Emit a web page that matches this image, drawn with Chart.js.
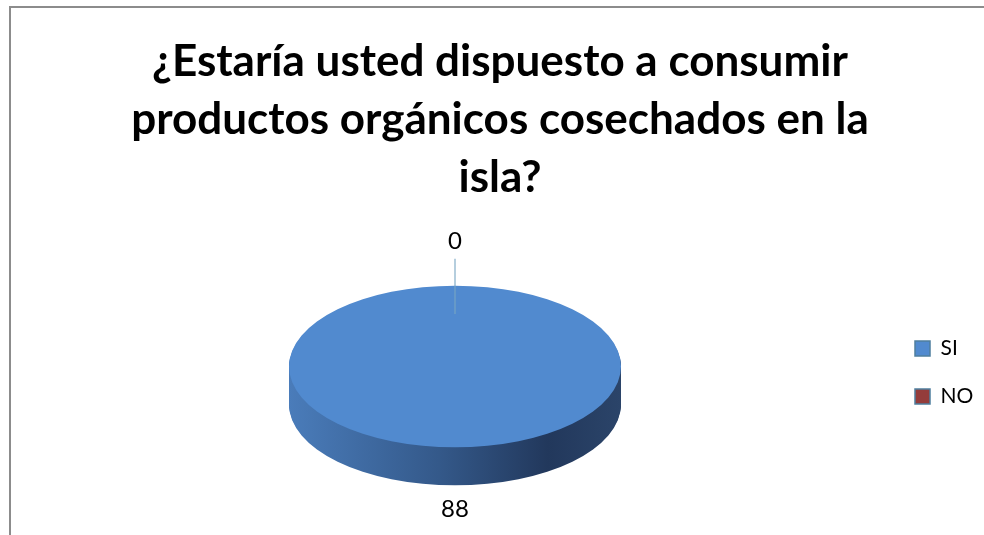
<!DOCTYPE html>
<html>
<head>
<meta charset="utf-8">
<script src="https://cdn.jsdelivr.net/npm/chart.js@4"></script>
<style>
  html, body { margin: 0; padding: 0; background: #fff; }
  #wrap { position: relative; width: 984px; height: 535px; }
  #frame { position: absolute; left: 9px; top: 6px; right: -4px; bottom: -4px; border-left: 2px solid #8c8c8c; border-top: 2px solid #8c8c8c; pointer-events: none; }
</style>
</head>
<body>
<div id="wrap">
  <canvas id="myChart" width="984" height="535"></canvas>
  <div id="frame"></div>
</div>
<script>
const categories = ["SI", "NO"];
const values = [88, 0];
const titleLines = ["¿Estaría usted dispuesto a consumir", "productos orgánicos cosechados en la", "isla?"];

const sliceColors = ["#518acf", "#943c3b"];
const TILT = 0.487;   // vertical squash of the pie
const DEPTH = 38;     // thickness of the 3D side

const sideGradient = (ctx, cx, r) => {
  let g = ctx.createLinearGradient(cx - r, 0, cx + r, 0);
  g.addColorStop(0, "#4a7cba");
  g.addColorStop(0.45, "#34598a");
  g.addColorStop(0.78, "#22385c");
  g.addColorStop(1, "#2b4469");
  return g;
};

const squash = (ctx, cx, cy) => {
  ctx.translate(cx, cy);
  ctx.scale(1, TILT);
  ctx.translate(-cx, -cy);
};

const drawArc = (ctx, arc, fill) => {
  const saved = arc.options;
  arc.options = Object.assign({}, saved, { backgroundColor: fill, borderWidth: 0 });
  arc.draw(ctx);
  arc.options = saved;
};

/* fake 3D: side drawn with offset copies of the arcs, then top face squashed */
const pie3d = {
  id: "pie3d",
  beforeDatasetsDraw(chart) {
    const ctx = chart.ctx;
    const arcs = chart.getDatasetMeta(0).data;
    const { x: cx, y: cy, outerRadius: r } = arcs[0];
    const grad = sideGradient(ctx, cx, r);
    for (let d = DEPTH; d > 0; d--) {
      ctx.save();
      ctx.translate(0, d);
      squash(ctx, cx, cy);
      arcs.forEach((arc, i) => { if (values[i] > 0) drawArc(ctx, arc, grad); });
      ctx.restore();
    }
    ctx.save();
    squash(ctx, cx, cy);
  },
  afterDatasetsDraw(chart) {
    const ctx = chart.ctx;
    ctx.restore();
    const arcs = chart.getDatasetMeta(0).data;
    ctx.save();
    ctx.font = "24px Lato";
    ctx.fillStyle = "#000";
    ctx.textAlign = "center";
    ctx.textBaseline = "middle";
    arcs.forEach((arc, i) => {
      const { x: cx, y: cy, outerRadius: r, startAngle, endAngle } = arc;
      const mid = (startAngle + endAngle) / 2;
      const dx = Math.cos(mid), dy = Math.sin(mid);
      const ex = cx + dx * r, ey = cy + dy * r * TILT + (dy > 0 ? DEPTH : 0);
      const gap = values[i] === 0 ? 44 : 24;
      const lx = ex + dx * gap, ly = ey + dy * gap;
      if (values[i] === 0) {
        ctx.strokeStyle = "rgba(120,165,195,0.55)";
        ctx.lineWidth = 2;
        ctx.beginPath();
        ctx.moveTo(lx, ly + 17 * -dy);
        ctx.lineTo(cx + dx * r * 0.65, cy + dy * r * TILT * 0.65);
        ctx.stroke();
      }
      ctx.fillText(String(values[i]), lx, ly);
    });
    ctx.restore();
  },
};

new Chart(document.getElementById("myChart"), {
  type: "pie",
  data: {
    labels: categories,
    datasets: [
      {
        data: values,
        backgroundColor: sliceColors,
        borderWidth: 0,
        radius: 166,
        clip: false,
      },
    ],
  },
  options: {
    responsive: false,
    animation: false,
    events: [],
    layout: { padding: { left: 22, right: 6, top: 0, bottom: 0 } },
    plugins: {
      title: {
        display: true,
        text: titleLines,
        color: "#000",
        font: { family: "Lato", size: 44, weight: "bold", lineHeight: "58px" },
        padding: { top: 33, bottom: -9 },
      },
      legend: {
        position: "right",
        fullSize: false,
        maxWidth: 90,
        title: { display: true, text: " ", font: { size: 10, lineHeight: 1.2 }, padding: 0 },
        labels: {
          color: "#000",
          font: { family: "Lato", size: 21 },
          boxWidth: 15,
          boxHeight: 15,
          padding: 27,
          generateLabels: (chart) =>
            Chart.overrides.pie.plugins.legend.labels.generateLabels(chart).map((l) =>
              Object.assign(l, { strokeStyle: "#4f7f9f", lineWidth: 1.5 })
            ),
        },
      },
      tooltip: { enabled: false },
    },
  },
  plugins: [pie3d],
});
</script>
</body>
</html>
